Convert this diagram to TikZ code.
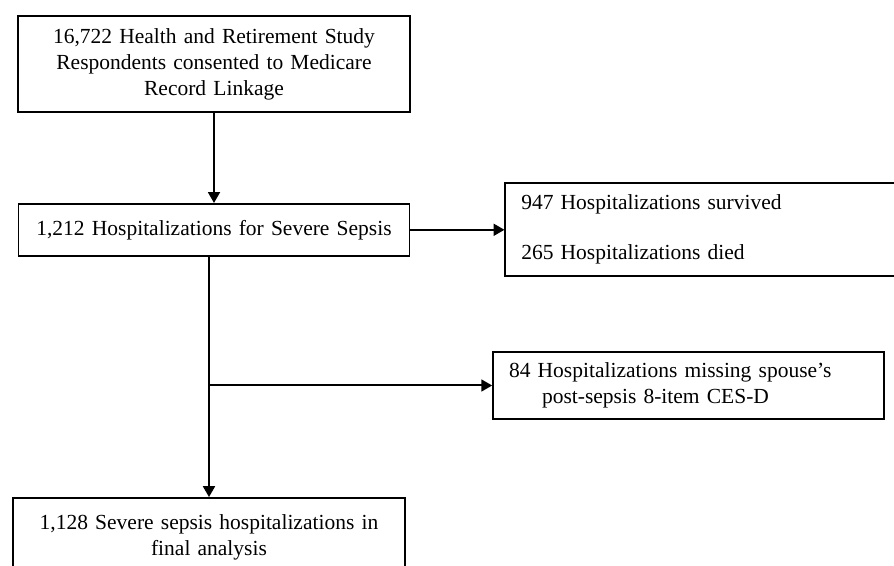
\documentclass[tikz,border=0pt]{standalone}
\usepackage{fontspec}
\setmainfont{Liberation Serif}
\usetikzlibrary{arrows,positioning}

\tikzset{
  flowbox/.style={draw, rectangle, line width=1.8pt, inner ysep=0pt,
    font=\fontsize{21.5}{26}\selectfont},
  flowarrow/.style={-triangle 60, line width=2pt}
}

\begin{document}
\begin{tikzpicture}[x=1pt,y=1pt]
    \clip (0,0) rectangle (894,565);
    \node[flowbox, inner xsep=0pt, text width=392pt, minimum height=96pt, align=center]
        (cohort) at (214,501)
        {16,722 Health and Retirement Study\\Respondents consented to Medicare\\Record Linkage};
    \node[flowbox, inner xsep=0pt, text width=391pt, minimum height=52pt, align=center,
        below=90pt of cohort] (sepsis)
        {1,212 Hospitalizations for Severe Sepsis};
    \node[flowbox, inner xsep=16pt, text width=358pt, minimum height=93pt, align=left,
        right=94pt of sepsis] (outcome)
        {947 Hospitalizations survived\\[24pt]265 Hospitalizations died};
    \node[flowbox, inner xsep=16pt, text width=359pt, minimum height=67pt, align=left]
        (missing) at (688.5,179.5)
        {84 Hospitalizations missing spouse's\\\hspace*{33pt}post-sepsis 8-item CES-D};
    \node[flowbox, inner xsep=0pt, text width=392pt, minimum height=78pt, align=center,
        anchor=north] (final) at (209,68)
        {1,128 Severe sepsis hospitalizations in\\final analysis\\[8pt]};

    % connectors
    \draw[flowarrow] (cohort.south -| sepsis.north) -- (sepsis.north);
    \draw[flowarrow] (sepsis.east) -- (outcome.west);
    \draw[flowarrow] (final.north |- sepsis.south) -- (final.north);
    \draw[flowarrow] (final.north |- missing.west) -- (missing.west);
\end{tikzpicture}
\end{document}
